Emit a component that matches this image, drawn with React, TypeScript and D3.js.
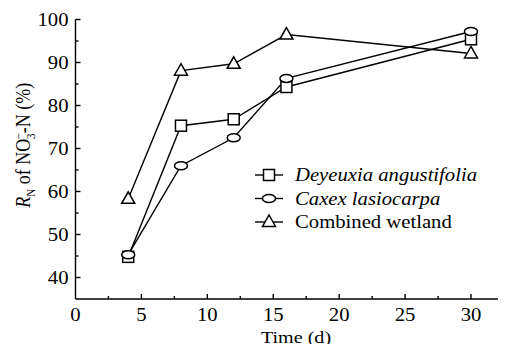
import React, { useRef, useEffect } from "react";
import * as d3 from "d3";

const days = [4, 8, 12, 16, 30];
const deyeuxia = [44.8, 75.3, 76.8, 84.3, 95.4];
const caxex = [45.3, 66.0, 72.5, 86.3, 97.2];
const combined = [58.3, 88.1, 89.7, 96.5, 92.1];
const seriesNames = ["Deyeuxia angustifolia", "Caxex lasiocarpa", "Combined wetland"];
const xTicks = [0, 5, 10, 15, 20, 25, 30];
const yTicks = [40, 50, 60, 70, 80, 90, 100];

const W = 506;
const H = 352;
const FONT = "Liberation Serif";
// the source figure is slightly stretched sideways
const SX = 1.15;

function drawMarker(g: any, kind: number, cx: number, cy: number) {
  if (kind === 0) {
    g.append("rect")
      .attr("x", cx - 5.5).attr("y", cy - 5.5)
      .attr("width", 11).attr("height", 11)
      .attr("fill", "#fff").attr("stroke", "#000").attr("stroke-width", 1.5);
  } else if (kind === 1) {
    g.append("ellipse")
      .attr("cx", cx).attr("cy", cy).attr("rx", 6.5).attr("ry", 4)
      .attr("fill", "#fff").attr("stroke", "#000").attr("stroke-width", 1.5);
  } else {
    g.append("path")
      .attr("d", `M${cx},${cy - 7}L${cx + 6.5},${cy + 4.5}L${cx - 6.5},${cy + 4.5}Z`)
      .attr("fill", "#fff").attr("stroke", "#000").attr("stroke-width", 1.5);
  }
}

function stretchedText(g: any, px: number, py: number, anchor: string, label: string) {
  return g.append("text")
    .attr("transform", `translate(${px},${py}) scale(${SX},1)`)
    .attr("text-anchor", anchor)
    .text(label);
}

function Chart() {
  const ref = useRef<SVGSVGElement>(null);

  useEffect(() => {
    const svg = d3.select(ref.current);
    svg.selectAll("*").remove();

    const x = d3.scaleLinear().domain([0, 32.2]).range([75.5, 500]);
    const y = d3.scaleLinear().domain([35, 100]).range([299, 19.5]);

    // axes
    const axis = svg.append("g").attr("stroke", "#000").attr("stroke-width", 1.4);
    axis.append("line").attr("x1", x(0)).attr("x2", x(32.2)).attr("y1", y(35)).attr("y2", y(35));
    axis.append("line").attr("x1", x(0)).attr("x2", x(0)).attr("y1", y(35)).attr("y2", y(100));

    d3.range(2.5, 32.2, 2.5).forEach((t) => {
      axis.append("line")
        .attr("x1", x(t)).attr("x2", x(t))
        .attr("y1", y(35)).attr("y2", y(35) - (t % 5 === 0 ? 5 : 3));
    });
    d3.range(40, 101, 5).forEach((v) => {
      axis.append("line")
        .attr("x1", x(0)).attr("x2", x(0) + (v % 10 === 0 ? 5 : 3))
        .attr("y1", y(v)).attr("y2", y(v));
    });

    const txt = svg.append("g").attr("font-family", FONT).attr("font-size", 18).attr("fill", "#000");
    xTicks.forEach((t) => stretchedText(txt, x(t), y(35) + 22, "middle", String(t)));
    yTicks.forEach((v) => stretchedText(txt, x(0) - 7, y(v) + 6.5, "end", String(v)));

    stretchedText(txt, 296, 343, "middle", "Time (d)").attr("font-size", 17.5);

    const yl = txt.append("text")
      .attr("transform", `translate(30,${(y(35) + y(100)) / 2 - 14}) rotate(-90) scale(1,${SX})`)
      .attr("text-anchor", "middle");
    yl.append("tspan").attr("font-style", "italic").text("R");
    yl.append("tspan").attr("font-size", 11).attr("dy", 4).text("N");
    yl.append("tspan").attr("dy", -4).text(" of NO");
    yl.append("tspan").attr("font-size", 11).attr("dy", 4).text("3");
    yl.append("tspan").attr("font-size", 11).attr("dx", -6).attr("dy", -10).text("−");
    yl.append("tspan").attr("dy", 6).text("-N (%)");

    // series
    const all = [deyeuxia, caxex, combined];
    const line = d3.line<number>().x((_, i) => x(days[i])).y((d) => y(d));
    all.forEach((vals) => {
      svg.append("path").attr("d", line(vals)!)
        .attr("fill", "none").attr("stroke", "#000").attr("stroke-width", 1.4);
    });
    all.forEach((vals, k) => {
      const g = svg.append("g");
      vals.forEach((v, i) => drawMarker(g, k, x(days[i]), y(v)));
    });

    // legend
    const lg = svg.append("g").attr("font-family", FONT).attr("font-size", 18);
    seriesNames.forEach((name, k) => {
      const ly = 175 + k * 23.5;
      lg.append("line").attr("x1", 255).attr("x2", 283).attr("y1", ly).attr("y2", ly)
        .attr("stroke", "#000").attr("stroke-width", 1.4);
      drawMarker(lg, k, 269, ly);
      stretchedText(lg, 295, ly + 6, "start", name)
        .attr("font-style", k < 2 ? "italic" : "normal");
    });
  }, []);

  return <svg ref={ref} width={W} height={H} style={{ display: "block", background: "#fff" }} />;
}

export default function App() {
  return (
    <div style={{ margin: -8, width: W, height: H }}>
      <Chart />
    </div>
  );
}
